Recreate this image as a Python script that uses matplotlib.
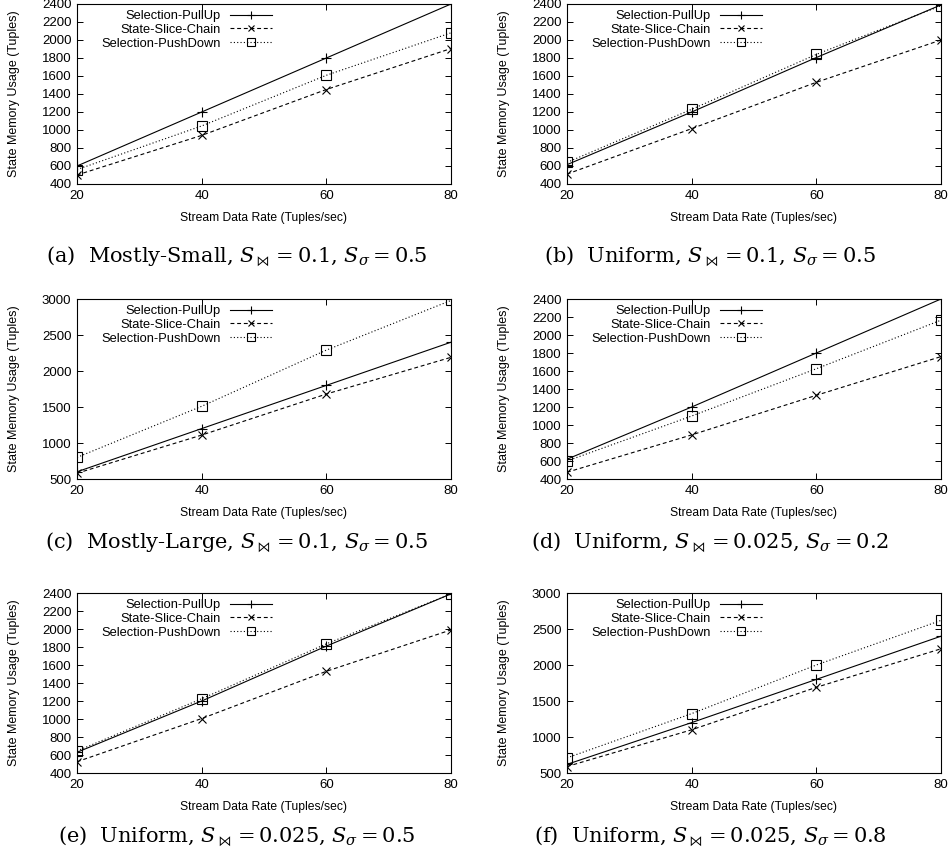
import numpy as np
import matplotlib
matplotlib.use("Agg")
import matplotlib.pyplot as plt

plt.rcParams['font.family'] = ['Liberation Sans', 'DejaVu Sans']
plt.rcParams['mathtext.fontset'] = 'dejavuserif'

rates = [20, 40, 60, 80]
series_names = ["Selection-PullUp", "State-Slice-Chain", "Selection-PushDown"]

# (a) Mostly-Small
a_pullup = [600, 1200, 1800, 2400]
a_chain = [500, 940, 1450, 1905]
a_push = [560, 1045, 1608, 2080]
# (b) Uniform, 0.1 / 0.5
b_pullup = [615, 1200, 1805, 2390]
b_chain = [510, 1015, 1530, 2000]
b_push = [640, 1230, 1840, 2380]
# (c) Mostly-Large
c_pullup = [600, 1200, 1800, 2400]
c_chain = [580, 1110, 1680, 2190]
c_push = [800, 1510, 2290, 2980]
# (d) Uniform, 0.025 / 0.2
d_pullup = [620, 1200, 1800, 2400]
d_chain = [475, 890, 1330, 1760]
d_push = [600, 1100, 1625, 2165]
# (e) Uniform, 0.025 / 0.5
e_pullup = [630, 1200, 1810, 2390]
e_chain = [525, 1005, 1530, 1990]
e_push = [645, 1225, 1835, 2390]
# (f) Uniform, 0.025 / 0.8
f_pullup = [620, 1200, 1800, 2400]
f_chain = [590, 1100, 1690, 2225]
f_push = [710, 1325, 2000, 2620]

captions = [
    r"(a)  Mostly-Small, $S_{\bowtie}=0.1$, $S_{\sigma}=0.5$",
    r"(b)  Uniform, $S_{\bowtie}=0.1$, $S_{\sigma}=0.5$",
    r"(c)  Mostly-Large, $S_{\bowtie}=0.1$, $S_{\sigma}=0.5$",
    r"(d)  Uniform, $S_{\bowtie}=0.025$, $S_{\sigma}=0.2$",
    r"(e)  Uniform, $S_{\bowtie}=0.025$, $S_{\sigma}=0.5$",
    r"(f)  Uniform, $S_{\bowtie}=0.025$, $S_{\sigma}=0.8$",
]
panels = [
    (a_pullup, a_chain, a_push, (400, 2400), 200),
    (b_pullup, b_chain, b_push, (400, 2400), 200),
    (c_pullup, c_chain, c_push, (500, 3000), 500),
    (d_pullup, d_chain, d_push, (400, 2400), 200),
    (e_pullup, e_chain, e_push, (400, 2400), 200),
    (f_pullup, f_chain, f_push, (500, 3000), 500),
]

W, H = 949, 859
fig = plt.figure(figsize=(W / 100, H / 100), dpi=100)

col_left = [77, 567]
ax_w = 374
row_top = [4, 299, 593]
ax_h = 180
cap_x = [237, 710]
cap_y = [257, 543, 837]

styles = [
    dict(ls='-', marker='+', ms=7, mew=0.8),
    dict(ls=(0, (3.5, 2.5)), marker='x', ms=5.5, mew=0.8),
    dict(ls=(0, (1, 2)), marker='s', ms=6.5, mew=0.8, mfc='none'),
]

for i, (p, c, d, ylim, step) in enumerate(panels):
    r, col = divmod(i, 2)
    x0 = col_left[col]
    y0 = row_top[r] + ax_h
    ax = fig.add_axes([x0 / W, 1 - y0 / H, ax_w / W, ax_h / H])
    for vals, name, st in zip([p, c, d], series_names, styles):
        ax.plot(rates, vals, color='black', lw=0.8, label=name, **st)
    ax.set_xlim(20, 80)
    ax.set_ylim(*ylim)
    ax.set_xticks(rates)
    ax.set_yticks(np.arange(ylim[0], ylim[1] + 1, step))
    ax.tick_params(direction='in', top=True, right=True, labelsize=9.5,
                   length=4.5, width=0.7, pad=4)
    for s in ax.spines.values():
        s.set_linewidth(0.8)
    ax.set_xlabel("Stream Data Rate (Tuples/sec)", fontsize=8.7)
    ax.set_ylabel("State Memory Usage (Tuples)", fontsize=9)
    ax.xaxis.set_label_coords(0.5, -0.155)
    ax.yaxis.set_label_coords(-0.152, 0.5)
    ax.legend(loc='upper right', bbox_to_anchor=(0.522, 0.965), frameon=False,
              markerfirst=False, fontsize=9.3, handlelength=3.3,
              handletextpad=0.7, labelspacing=0.12, borderaxespad=0.0,
              borderpad=0.0, markerscale=0.8)
    fig.text(cap_x[col] / W, 1 - cap_y[r] / H, captions[i], ha='center',
             va='center', fontsize=15, family='DejaVu Serif')

fig.savefig("out.png", dpi=100)
